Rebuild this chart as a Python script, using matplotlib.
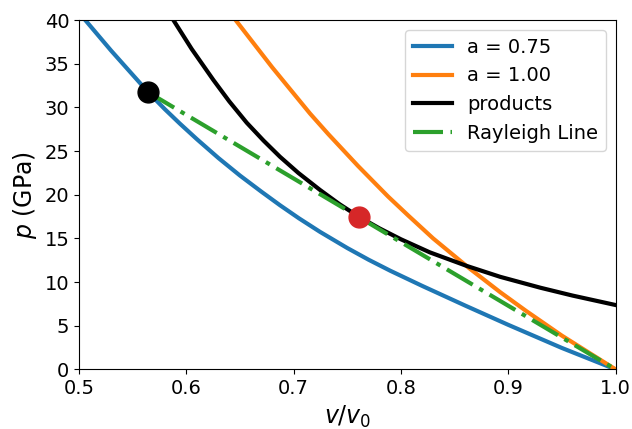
"""
Hugoniot curves with Rayleigh line
"""
import matplotlib
matplotlib.use('Agg')
import matplotlib.pyplot as plt

# unreacted (a = 0.75) hugoniot
v_a075 = [0.5059, 0.53, 0.5646, 0.58, 0.594, 0.61, 0.63, 0.65, 0.67, 0.6873,
          0.705, 0.7246, 0.75, 0.77, 0.79, 0.82, 0.86, 0.90, 0.95, 1.0]
p_a075 = [40.0, 36.5, 31.73, 29.8, 28.15, 26.35, 24.2, 22.2, 20.35, 18.8,
          17.3, 15.75, 13.9, 12.55, 11.3, 9.55, 7.3, 5.1, 2.45, 0.0]

# a = 1.00 hugoniot
v_a100 = [0.646, 0.68, 0.7153, 0.7323, 0.76, 0.788, 0.807, 0.83, 0.864,
          0.8925, 0.917, 0.95, 0.976, 1.0]
p_a100 = [40.0, 34.6, 29.3, 26.95, 23.3, 19.8, 17.6, 15.0, 11.55,
          8.84, 6.66, 3.86, 1.85, 0.0]

# products hugoniot
v_prod = [0.588, 0.605, 0.6252, 0.64, 0.6563, 0.672, 0.6873, 0.7044, 0.7246,
          0.743, 0.7612, 0.78, 0.80, 0.827, 0.8613, 0.8925, 0.93, 0.96, 1.0]
p_prod = [40.0, 36.7, 33.15, 30.7, 28.25, 26.2, 24.35, 22.5, 20.55,
          18.9, 17.45, 16.15, 14.9, 13.4, 11.85, 10.6, 9.35, 8.45, 7.37]

# Rayleigh line end points and marked states
v_ray = [0.5646, 1.0]
p_ray = [31.73, 0.0]
v_shock, p_shock = 0.5646, 31.73
v_cj, p_cj = 0.7612, 17.4

fig = plt.figure(figsize=(6.32, 4.29), dpi=100)
ax = fig.add_axes([0.125, 0.139, 0.849, 0.814])

ax.plot(v_a075, p_a075, color='#1f77b4', lw=3, label='a = 0.75')
ax.plot(v_a100, p_a100, color='#ff7f0e', lw=3, label='a = 1.00')
ax.plot(v_prod, p_prod, color='black', lw=3, label='products')
ax.plot(v_ray, p_ray, color='#2ca02c', lw=3, ls=(0, (7.2, 1.8, 1.1, 1.8)),
        label='Rayleigh Line')
ax.plot(v_shock, p_shock, 'o', color='black', ms=15)
ax.plot(v_cj, p_cj, 'o', color='#d62728', ms=15)

ax.set_xlim(0.5, 1.0)
ax.set_ylim(0, 40)
ax.tick_params(labelsize=14)
ax.set_xlabel(r'$v/v_0$', fontsize=17)
ax.set_ylabel(r'$p$ (GPa)', fontsize=17)
ax.legend(loc='upper right', fontsize=14)

plt.savefig('out.png', dpi=100)
